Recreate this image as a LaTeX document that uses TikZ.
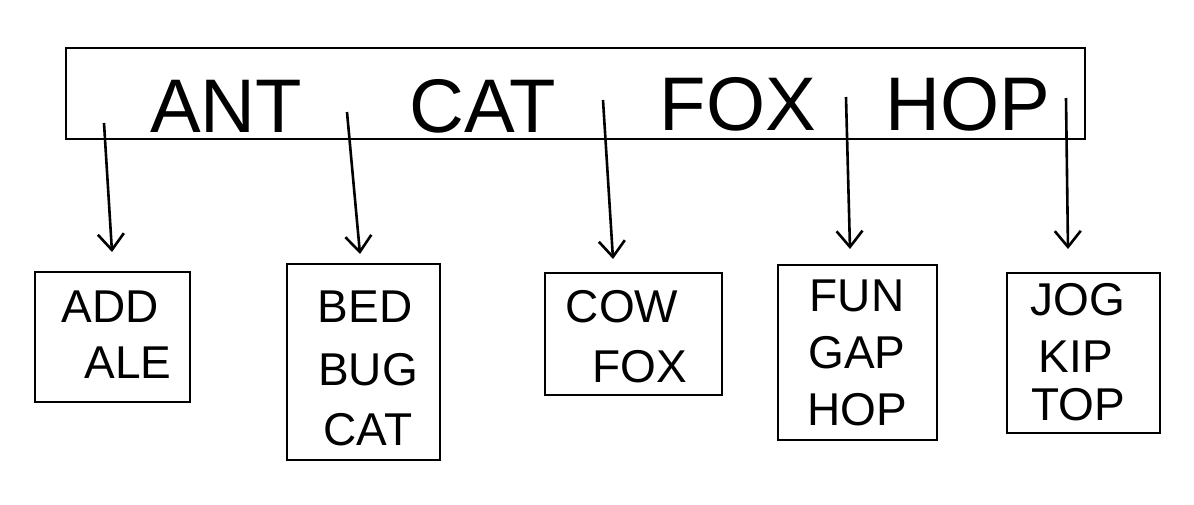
\documentclass[tikz,border=0pt]{standalone}
\usepackage{fontspec}
\setmainfont{Liberation Sans}
\usetikzlibrary{arrows.meta}
\begin{document}
\begin{tikzpicture}[x=1pt,y=-1pt,
  box/.style={draw, line width=2.8pt, inner sep=0pt},
  bigword/.style={font=\fontsize{76}{76}\selectfont, inner sep=0pt, anchor=center},
  word/.style={font=\fontsize{46}{46}\selectfont, inner sep=0pt, anchor=center},
  ptr/.style={line width=2.6pt, -{Straight Barb[length=16pt,width=26pt,line width=2.6pt]}}
]
\useasboundingbox (0,0) rectangle (1194,504);
% root node
\node[box, minimum width=1019pt, minimum height=91pt] (root) at (575.5,93.5) {};
\node[bigword] (k1) at (226,106) {ANT};
\node[bigword] (k2) at (483,106) {CAT};
\node[bigword] (k3) at (738,104) {FOX};
\node[bigword] (k4) at (968,104) {HOP};
% pointer starts
\coordinate (p1) at (104,123);
\coordinate (p2) at (347,112);
\coordinate (p3) at (603,100);
\coordinate (p4) at (846,97);
\coordinate (p5) at (1066,98);
% leaves
\node[box, minimum width=155pt, minimum height=130pt] (l1) at (112.5,337) {};
\node[box, minimum width=153pt, minimum height=196pt] (l2) at (363.5,362) {};
\node[box, minimum width=177pt, minimum height=122pt] (l3) at (633.5,334) {};
\node[box, minimum width=159pt, minimum height=175pt] (l4) at (857.5,352.5) {};
\node[box, minimum width=153pt, minimum height=160pt] (l5) at (1083.5,353) {};
% pointer ends
\coordinate (e1) at (112,252);
\coordinate (e2) at (360,254);
\coordinate (e3) at (613,259);
\coordinate (e4) at (850,249);
\coordinate (e5) at (1068,249);
\draw[ptr] (p1) -- (e1);
\draw[ptr] (p2) -- (e2);
\draw[ptr] (p3) -- (e3);
\draw[ptr] (p4) -- (e4);
\draw[ptr] (p5) -- (e5);
% leaf words
\node[word] (w11) at (110,307) {ADD};
\node[word] (w12) at (128,363) {ALE};
\node[word] (w21) at (365,307) {BED};
\node[word] (w22) at (368,370) {BUG};
\node[word] (w23) at (368,430) {CAT};
\node[word] (w31) at (622,307) {COW};
\node[word] (w32) at (640,367) {FOX};
\node[word] (w41) at (857,296) {FUN};
\node[word] (w42) at (857,353) {GAP};
\node[word] (w43) at (857,410) {HOP};
\node[word] (w51) at (1078,300) {JOG};
\node[word] (w52) at (1076,357) {KIP};
\node[word] (w53) at (1078,405) {TOP};
\end{tikzpicture}
\end{document}
